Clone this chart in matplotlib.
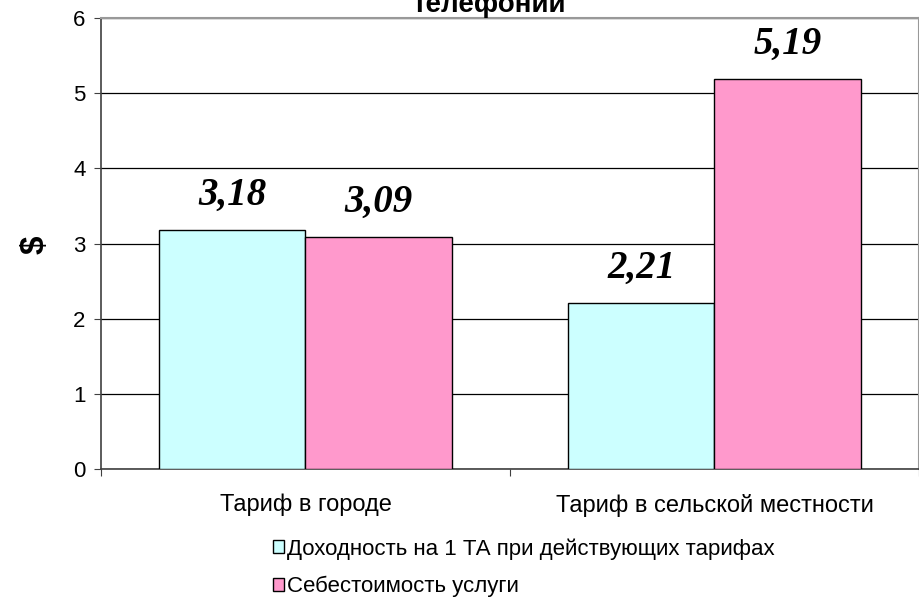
import matplotlib
matplotlib.use("Agg")
import matplotlib.pyplot as plt
import numpy as np

categories = ["Тариф в городе", "Тариф в сельской местности"]
series_names = ["Доходность на 1 ТА при действующих тарифах", "Себестоимость услуги"]
income = [3.18, 2.21]
cost = [3.09, 5.19]
income_labels = ["3,18", "2,21"]
cost_labels = ["3,09", "5,19"]
title_text = "телефонии"
ylabel_text = "$"

plt.rcParams['font.family'] = ['Liberation Sans', 'DejaVu Sans']

fig = plt.figure(figsize=(9.2, 5.99), dpi=100)
ax = fig.add_axes([101/920, 1-469/599, 818/920, 451/599])

x = np.arange(len(categories))
w = 0.358
b1 = ax.bar(x - w/2, income, w, color="#CCFFFF", edgecolor="black", linewidth=1, zorder=3, label=series_names[0])
b2 = ax.bar(x + w/2, cost, w, color="#FF99CC", edgecolor="black", linewidth=1, zorder=3, label=series_names[1])

for bars, labs in ((b1, income_labels), (b2, cost_labels)):
    for r, t in zip(bars, labs):
        ax.annotate(t, (r.get_x() + r.get_width()/2, r.get_height()),
                    xytext=(0, 18), textcoords="offset points", ha="center", va="baseline",
                    fontsize=28, fontweight="bold", fontstyle="italic", family="Liberation Serif")

ax.set_xlim(-0.5, 1.5)
ax.set_ylim(0, 6)
ax.set_yticks(range(7))
ax.yaxis.grid(True, color="black", linewidth=0.9, zorder=0)
ax.set_axisbelow(True)
ax.tick_params(axis="y", length=5, direction="out", labelsize=16, pad=6, color="#404040")

ax.set_xticks([-0.5, 0.5, 1.5])
ax.set_xticklabels([])
ax.tick_params(axis="x", which="major", length=5, direction="out", color="#404040")
ax.set_xticks(x, minor=True)
ax.set_xticklabels(categories, minor=True)
ax.tick_params(axis="x", which="minor", length=0, labelsize=17, pad=18)

for s in ("top", "right"):
    ax.spines[s].set_color("#999999")
    ax.spines[s].set_linewidth(1.5)
for s in ("left", "bottom"):
    ax.spines[s].set_color("#404040")
    ax.spines[s].set_linewidth(1.2)

fig.text(35/920, 1-245/599, ylabel_text, rotation=90, ha="center", va="center",
         fontsize=24, fontweight="bold")
fig.text(489/920, 1-12/599, title_text, ha="center", va="baseline",
         fontsize=20, fontweight="bold")

fig.legend(handles=[b1, b2], loc="upper left", bbox_to_anchor=(273/920, 1-538/599),
           frameon=False, fontsize=16, handlelength=0.5, handleheight=0.5,
           handletextpad=0.15, labelspacing=0.75, borderaxespad=0, borderpad=0)

fig.savefig("out.png", dpi=100)
